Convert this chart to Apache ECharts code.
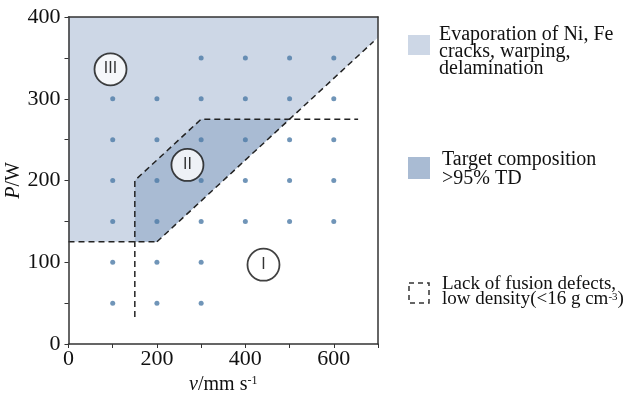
<!DOCTYPE html>
<html><head><meta charset="utf-8">
<script src="https://cdn.jsdelivr.net/npm/echarts@6/dist/echarts.min.js"></script>
<style>html,body{margin:0;padding:0;background:#fff}#c{width:639px;height:401px}</style>
</head><body><div id="c"></div>
<script>
// ---- data ----
const xTicks = [0, 200, 400, 600];
const yTicks = [0, 100, 200, 300, 400];
const regionIII = [[0,125],[200,125],[700,375],[700,400],[0,400]];
const regionII = [[150,125],[200,125],[500,275],[300,275],[150,200]];
const dashA = [[0,125],[200,125]];
const dashB = [[150,33],[150,200],[300,275],[655,275]];
const dashC = [[200,125],[690,370]];
const samplePoints = [
  [100,50],[100,100],[100,150],[100,200],[100,250],[100,300],
  [200,50],[200,100],[200,150],[200,200],[200,250],[200,300],
  [300,50],[300,100],[300,150],[300,200],[300,250],[300,300],[300,350],
  [400,150],[400,200],[400,250],[400,300],[400,350],
  [500,150],[500,200],[500,250],[500,300],[500,350],
  [600,150],[600,200],[600,250],[600,300],[600,350]
];
const regionLabels = [[95,336,'III'],[269,219,'II'],[441,97,'I']];

const serif = 'Liberation Serif';
const lightFill = '#cdd7e6';
const darkFill = '#a9bbd3';
const axisCol = '#333';

function polySeries(poly, fill) {
  return {
    type: 'custom', z: 1, silent: true,
    data: poly,
    renderItem: function (params, api) {
      if (params.dataIndex !== 0) return;
      return { type: 'polygon', shape: { points: poly.map(p => api.coord(p)) }, style: { fill: fill } };
    }
  };
}
function dashSeries(pts) {
  return { type: 'line', data: pts, symbol: 'none', z: 3, silent: true,
    lineStyle: { color: '#222', width: 1.5, type: [6, 4] } };
}

const chart = echarts.init(document.getElementById('c'));
chart.setOption({
  animation: false,
  grid: { left: 68.5, right: 261, top: 17, bottom: 57 },
  xAxis: [{
    type: 'value', min: 0, max: 700, interval: 100, z: 10,
    axisLine: { onZero: false, lineStyle: { color: axisCol, width: 1.5 } },
    axisTick: { show: true, length: 4, lineStyle: { color: axisCol } },
    splitLine: { show: false },
    axisLabel: { fontFamily: serif, fontSize: 22, color: '#111', margin: 4,
      formatter: v => xTicks.indexOf(v) >= 0 ? String(v) : '' },
    name: '{i|v}/mm s{sup|-1}', nameLocation: 'middle', nameGap: 30,
    nameTextStyle: { fontFamily: serif, fontSize: 20, color: '#111',
      rich: { i: { fontFamily: serif, fontSize: 20, fontStyle: 'italic', color: '#111' },
              sup: { fontFamily: serif, fontSize: 12, verticalAlign: 'top', color: '#111', padding: [0,0,8,0] } } }
  }, {
    type: 'value', min: 0, max: 700, position: 'top', z: 10,
    axisLine: { show: true, onZero: false, lineStyle: { color: axisCol, width: 1.5 } },
    axisTick: { show: false }, axisLabel: { show: false }, splitLine: { show: false }
  }],
  yAxis: [{
    type: 'value', min: 0, max: 400, interval: 50, z: 10,
    axisLine: { show: true, onZero: false, lineStyle: { color: axisCol, width: 1.5 } },
    axisTick: { show: true, length: 4, lineStyle: { color: axisCol } },
    splitLine: { show: false },
    axisLabel: { fontFamily: serif, fontSize: 22, color: '#111', margin: 8,
      formatter: v => yTicks.indexOf(v) >= 0 ? String(v) : '' },
    name: '{i|P}/W', nameLocation: 'middle', nameGap: 37,
    nameTextStyle: { fontFamily: serif, fontSize: 20, color: '#111',
      rich: { i: { fontFamily: serif, fontSize: 20, fontStyle: 'italic', color: '#111' } } }
  }, {
    type: 'value', min: 0, max: 400, position: 'right', z: 10,
    axisLine: { show: true, onZero: false, lineStyle: { color: axisCol, width: 1.5 } },
    axisTick: { show: false }, axisLabel: { show: false }, splitLine: { show: false }
  }],
  series: [
    polySeries(regionIII, lightFill),
    polySeries(regionII, darkFill),
    dashSeries(dashA), dashSeries(dashB), dashSeries(dashC),
    { type: 'scatter', data: samplePoints, symbolSize: 5, z: 4, silent: true,
      itemStyle: { color: '#4c7ba6' } },
    { type: 'scatter', data: regionLabels.map(d => [d[0], d[1], d[2]]), symbolSize: 32, z: 5, silent: true,
      itemStyle: { color: '#fff', borderColor: '#111', borderWidth: 1.8 },
      label: { show: true, position: 'inside', formatter: p => p.value[2],
        fontFamily: 'DejaVu Sans', fontSize: 15, color: '#000', fontWeight: 'normal' } }
  ],
  graphic: [
    { type: 'rect', shape: { x: 408, y: 35, width: 22, height: 20 }, style: { fill: lightFill } },
    { type: 'text', x: 439, y: 26, style: { text: 'Evaporation of Ni, Fe\ncracks, warping,\ndelamination',
      fontFamily: serif, fontSize: 20, lineHeight: 17, fill: '#111' } },
    { type: 'rect', shape: { x: 408, y: 157, width: 22, height: 22 }, style: { fill: darkFill } },
    { type: 'text', x: 442, y: 150, style: { text: 'Target composition\n>95% TD',
      fontFamily: serif, fontSize: 20, lineHeight: 19, fill: '#111' } },
    { type: 'rect', shape: { x: 409, y: 283, width: 20, height: 20 },
      style: { fill: 'none', stroke: '#333', lineWidth: 1.5, lineDash: [5, 4] } },
    { type: 'text', x: 442, y: 277, style: { text: 'Lack of fusion defects,\nlow density(<16 g cm{sup|-3})',
      fontFamily: serif, fontSize: 19, lineHeight: 15, fill: '#111',
      rich: { sup: { fontFamily: serif, fontSize: 11, verticalAlign: 'top', fill: '#111', padding: [0,0,6,0] } } } }
  ]
});
</script></body></html>
